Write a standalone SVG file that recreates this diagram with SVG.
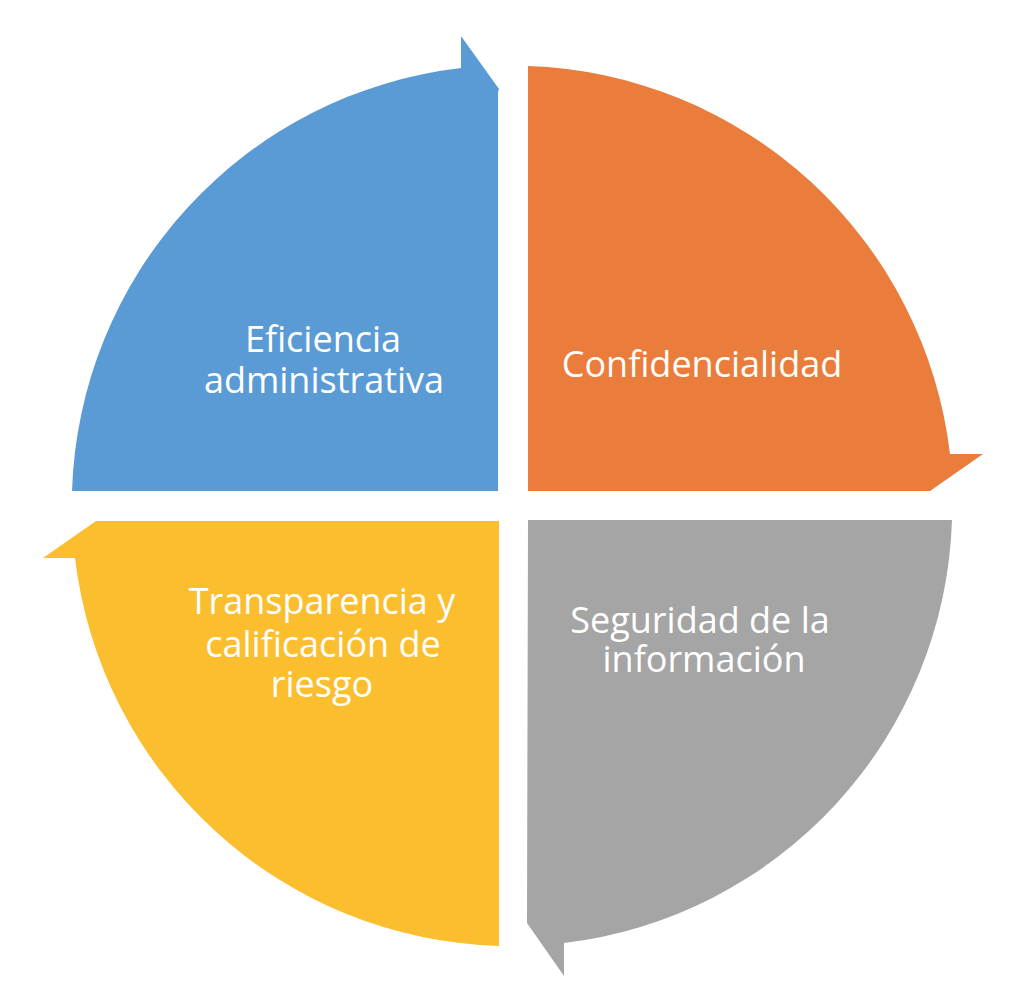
<svg xmlns="http://www.w3.org/2000/svg" width="1024" height="1006" viewBox="0 0 1024 1006">
<style>
.lbl{font-family:"Open Sans","Noto Sans","Liberation Sans",sans-serif;font-size:36px;fill:#FFFFFF;text-anchor:middle}
.blue{fill:#5B9BD5}
.orange{fill:#EA7D3C}
.gray{fill:#A5A5A5}
.yellow{fill:#FBBE2E}
</style>
<rect width="1024" height="1006" fill="#FFFFFF"/>
<g id="connectors"></g>
<g id="node-eficiencia">
<path class="blue" d="M498 491 H72 A440 440 0 0 1 461 68 L461 36 L499 89 L498 92 Z"/>
<text class="lbl" x="323" y="352">Eficiencia</text>
<text class="lbl" x="324" y="393">administrativa</text>
</g>
<g id="node-confidencialidad">
<path class="orange" d="M528 66 A440 440 0 0 1 950 454 L983 454 L930 491 H528 Z"/>
<text class="lbl" x="702" y="377">Confidencialidad</text>
</g>
<g id="node-seguridad">
<path class="gray" d="M528 520 H952 A440 440 0 0 1 564 943 L564 976 L527 923 Z"/>
<text class="lbl" x="700" y="633">Seguridad de la</text>
<text class="lbl" x="704" y="672">información</text>
</g>
<g id="node-transparencia">
<path class="yellow" d="M499 521 V946 A440 440 0 0 1 75 558 L43 558 L96 521 Z"/>
<text class="lbl" x="322" y="614">Transparencia y</text>
<text class="lbl" x="323" y="657">calificación de</text>
<text class="lbl" x="322" y="697">riesgo</text>
</g>
</svg>
